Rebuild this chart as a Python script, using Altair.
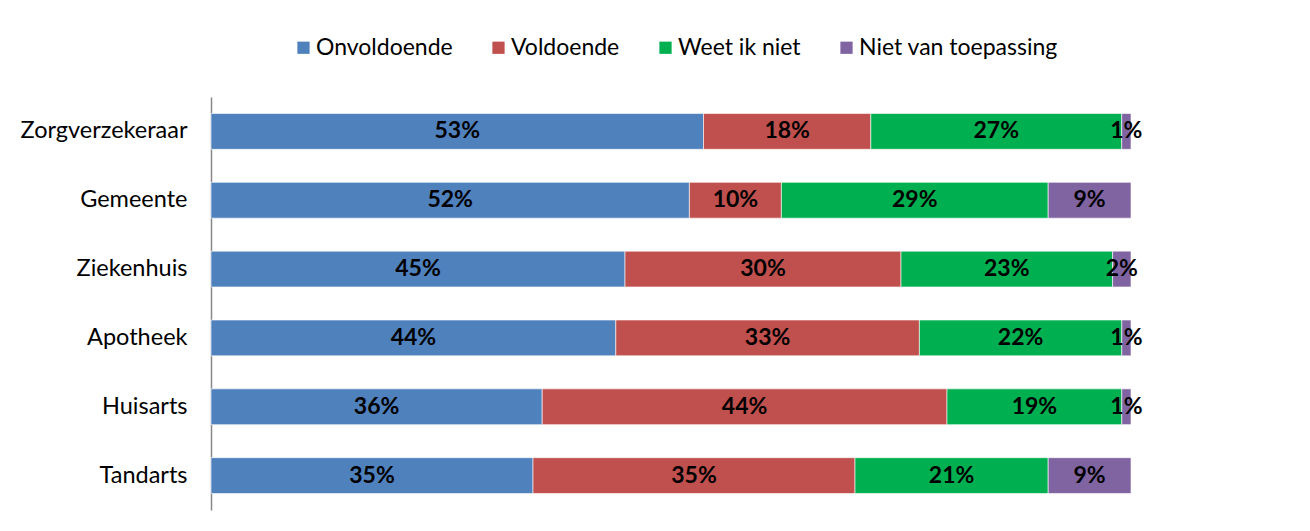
import altair as alt
import pandas as pd

categories = ["Zorgverzekeraar", "Gemeente", "Ziekenhuis", "Apotheek", "Huisarts", "Tandarts"]
series = ["Onvoldoende", "Voldoende", "Weet ik niet", "Niet van toepassing"]
colors = ["#4F81BD", "#C0504D", "#00B050", "#8064A2"]
values = {
    "Onvoldoende":         [53, 52, 45, 44, 36, 35],
    "Voldoende":           [18, 10, 30, 33, 44, 35],
    "Weet ik niet":        [27, 29, 23, 22, 19, 21],
    "Niet van toepassing": [1, 9, 2, 1, 1, 9],
}

rows = []
for si, s in enumerate(series):
    for ci, c in enumerate(categories):
        rows.append({"cat": c, "series": s, "order": si, "val": values[s][ci],
                     "label": f"{values[s][ci]}%"})
df = pd.DataFrame(rows)

FONT = "Lato"

base = alt.Chart(df).transform_joinaggregate(
    total="sum(val)", groupby=["cat"]
).transform_calculate(
    frac="datum.val / datum.total"
).transform_stack(
    stack="frac", groupby=["cat"], as_=["x0", "x1"],
    sort=[alt.SortField("order", order="ascending")]
).transform_calculate(
    mid="(datum.x0 + datum.x1) / 2"
)

y_enc = alt.Y("cat:N", sort=categories, title=None,
              scale=alt.Scale(paddingInner=0.48, paddingOuter=0.24),
              axis=alt.Axis(ticks=False, domainColor="#888888", domainWidth=1.5,
                            labelFont=FONT, labelFontSize=23.5, labelColor="#000000",
                            labelPadding=24, labelLimit=300))

bars = base.mark_bar(stroke="white", strokeWidth=0.6).encode(
    x=alt.X("x0:Q", scale=alt.Scale(domain=[0, 1]), axis=None),
    x2="x1:Q",
    y=y_enc,
    color=alt.Color("series:N", sort=series,
                    scale=alt.Scale(domain=series, range=colors),
                    legend=alt.Legend(title=None, orient="none", direction="horizontal",
                                      legendX=81, legendY=-61,
                                      symbolType="square", symbolSize=150,
                                      symbolStrokeWidth=0,
                                      labelFont=FONT, labelFontSize=23, labelLimit=400,
                                      labelColor="#000000", columnPadding=34,
                                      labelOffset=1)),
)

texts = base.mark_text(font=FONT, fontSize=23, fontWeight="bold", color="black").encode(
    x=alt.X("mid:Q", scale=alt.Scale(domain=[0, 1])),
    y=alt.Y("cat:N", sort=categories),
    text="label:N",
)

chart = alt.layer(bars, texts).properties(
    width=920, height=413,
    autosize=alt.AutoSizeParams(type="none"),
    padding={"left": 203, "top": 89, "right": 165, "bottom": 12},
).configure_view(stroke=None)

chart.save("out.html", embed_options={"renderer": "svg", "actions": False})
